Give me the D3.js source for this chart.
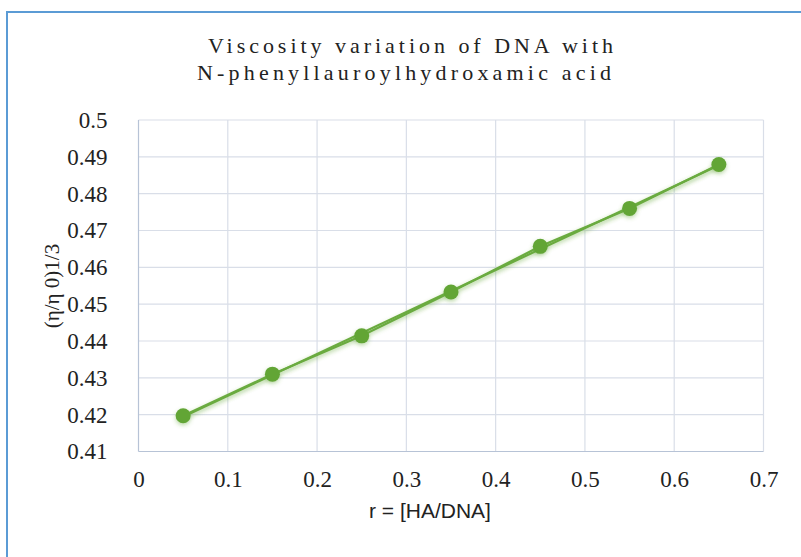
<!DOCTYPE html>
<html>
<head>
<meta charset="utf-8">
<script src="https://cdn.jsdelivr.net/npm/d3@7"></script>
<style>
  body { margin: 0; background: #fff; }
  svg { display: block; }
  .serif { font-family: "Liberation Serif", "Times New Roman", serif; fill: #222; }
  .sans { font-family: "Liberation Sans", Arial, sans-serif; fill: #222; }
</style>
</head>
<body>
<svg id="chart" width="801" height="557"></svg>
<script>
const svg = d3.select("#chart");

// data
const ratios = [0.05, 0.15, 0.25, 0.35, 0.45, 0.55, 0.65];
const viscosity = [0.4197, 0.4310, 0.4414, 0.4533, 0.4657, 0.4760, 0.4879];
const xTicks = [0, 0.1, 0.2, 0.3, 0.4, 0.5, 0.6, 0.7];
const yTicks = [0.41, 0.42, 0.43, 0.44, 0.45, 0.46, 0.47, 0.48, 0.49, 0.5];
const titleLines = ["Viscosity variation of DNA with", "N-phenyllauroylhydroxamic acid"];

const green = "#6aab3f";
const x = d3.scaleLinear().domain([0, 0.7]).range([138.5, 763.5]);
const y = d3.scaleLinear().domain([0.41, 0.5]).range([451.5, 120]);

// outer frame (right & bottom edges run off the page)
svg.append("rect")
    .attr("x", 7).attr("y", 12)
    .attr("width", 820).attr("height", 580)
    .attr("fill", "none")
    .attr("stroke", "#5b9bd5")
    .attr("stroke-width", 2);

// title
const titleSpans = [[208, 53, 405], [197, 80, 414]];
titleLines.forEach((t, i) => {
    svg.append("text")
        .attr("class", "serif")
        .attr("x", titleSpans[i][0])
        .attr("y", titleSpans[i][1])
        .attr("textLength", titleSpans[i][2])
        .attr("lengthAdjust", "spacing")
        .style("font-size", "22px")
        .text(t);
});

// grid
svg.append("g").selectAll("line").data(yTicks.slice(1)).enter().append("line")
    .attr("x1", x(0)).attr("x2", x(0.7))
    .attr("y1", d => y(d)).attr("y2", d => y(d))
    .attr("stroke", "#d9dee8").attr("stroke-width", 1.2);
svg.append("g").selectAll("line").data(xTicks.slice(1)).enter().append("line")
    .attr("x1", d => x(d)).attr("x2", d => x(d))
    .attr("y1", y(0.41)).attr("y2", y(0.5))
    .attr("stroke", "#d9dee8").attr("stroke-width", 1.2);

// axes lines
svg.append("line")
    .attr("x1", x(0)).attr("x2", x(0)).attr("y1", y(0.41)).attr("y2", y(0.5))
    .attr("stroke", "#b7c3d6").attr("stroke-width", 1.2);
svg.append("line")
    .attr("x1", x(0)).attr("x2", x(0.7)).attr("y1", y(0.41)).attr("y2", y(0.41))
    .attr("stroke", "#b7c3d6").attr("stroke-width", 1.2);

// tick labels
const xAxis = svg.append("g")
    .attr("transform", `translate(0,${y(0.41)})`)
    .call(d3.axisBottom(x).tickValues(xTicks).tickFormat(d => String(d)).tickSize(0).tickPadding(19));
const yAxis = svg.append("g")
    .attr("transform", `translate(${x(0) - 31},0)`)
    .call(d3.axisLeft(y).tickValues(yTicks).tickFormat(d => String(d)).tickSize(0).tickPadding(0));
[xAxis, yAxis].forEach(g => {
    g.select(".domain").remove();
    g.attr("font-family", null).attr("font-size", null);
    g.selectAll("text")
        .attr("class", "serif")
        .attr("fill", null)
        .style("font-size", "23px");
});

// axis titles
svg.append("text")
    .attr("class", "sans")
    .attr("x", 430).attr("y", 518)
    .attr("text-anchor", "middle")
    .style("font-size", "21px")
    .text("r = [HA/DNA]");
svg.append("text")
    .attr("class", "serif")
    .attr("transform", "translate(59,286) rotate(-90)")
    .attr("text-anchor", "middle")
    .style("font-size", "21px")
    .text("(η/η 0)1/3");

// shadow for markers and lines
const defs = svg.append("defs");
const f = defs.append("filter").attr("id", "glow")
    .attr("x", "-50%").attr("y", "-50%").attr("width", "200%").attr("height", "200%");
f.append("feDropShadow")
    .attr("dx", 0).attr("dy", 2).attr("stdDeviation", 2)
    .attr("flood-color", "#6aab3f").attr("flood-opacity", 0.45);

const pts = ratios.map((r, i) => ({ r, v: viscosity[i] }));

// linear trendline (least squares on the points)
const mx = d3.mean(ratios), my = d3.mean(viscosity);
const slope = d3.sum(pts, p => (p.r - mx) * (p.v - my)) / d3.sum(pts, p => (p.r - mx) ** 2);
const icpt = my - slope * mx;
const ext = d3.extent(ratios);
svg.append("line")
    .attr("x1", x(ext[0])).attr("y1", y(icpt + slope * ext[0]))
    .attr("x2", x(ext[1])).attr("y2", y(icpt + slope * ext[1]))
    .attr("stroke", green).attr("stroke-width", 2.2)
    .attr("filter", "url(#glow)");

// series line
svg.append("path")
    .datum(pts)
    .attr("d", d3.line().x(d => x(d.r)).y(d => y(d.v)))
    .attr("fill", "none")
    .attr("stroke", green)
    .attr("stroke-width", 2.2)
    .attr("filter", "url(#glow)");

// markers
svg.append("g").selectAll("circle").data(pts).enter().append("circle")
    .attr("cx", d => x(d.r))
    .attr("cy", d => y(d.v))
    .attr("r", 7.5)
    .attr("fill", "#62a536")
    .attr("filter", "url(#glow)");
</script>
</body>
</html>
